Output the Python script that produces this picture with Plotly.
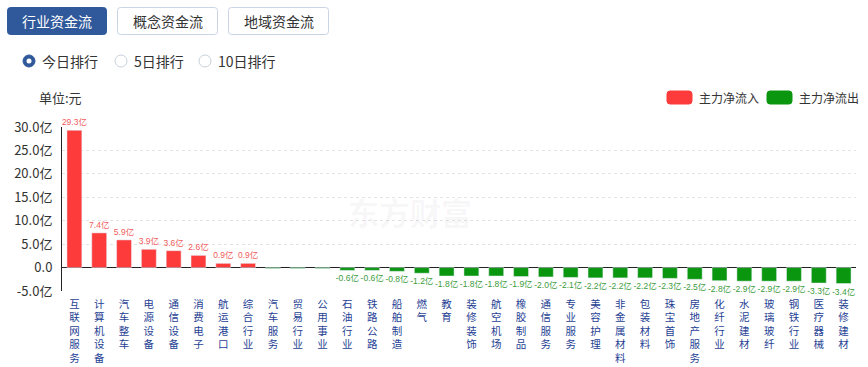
import plotly.graph_objects as go

categories = ["互联网服务", "计算机设备", "汽车整车", "电源设备", "通信设备", "消费电子", "航运港口", "综合行业",
              "汽车服务", "贸易行业", "公用事业", "石油行业", "铁路公路", "船舶制造", "燃气", "教育",
              "装修装饰", "航空机场", "橡胶制品", "通信服务", "专业服务", "美容护理", "非金属材料", "包装材料",
              "珠宝首饰", "房地产服务", "化纤行业", "水泥建材", "玻璃玻纤", "钢铁行业", "医疗器械", "装修建材"]
values = [29.3, 7.4, 5.9, 3.9, 3.6, 2.6, 0.9, 0.9,
          -0.2, -0.2, -0.2, -0.6, -0.6, -0.8, -1.2, -1.8,
          -1.8, -1.8, -1.9, -2.0, -2.1, -2.2, -2.2, -2.2,
          -2.3, -2.5, -2.8, -2.9, -2.9, -2.9, -3.3, -3.4]
y_ticks = [-5, 0, 5, 10, 15, 20, 25, 30]
y_ticktext = [("%.1f亿" % v) if v != 0 else "0.0" for v in y_ticks]
tabs = ["行业资金流", "概念资金流", "地域资金流"]
radios = ["今日排行", "5日排行", "10日排行"]
legend_names = ["主力净流入", "主力净流出"]

RED = "#fe3b3b"
GREEN = "#0a960f"
RED_TXT = "#ef5b5b"
GREEN_TXT = "#3c9c3c"

W, H = 868, 367
L, R, T, B = 62, 856, 127, 291


def px(x):
    return (x - L) / (R - L)


def py(y):
    return (B - y) / (B - T)


pos_vals = [v if v >= 0 else None for v in values]
neg_vals = [v if v < 0 else None for v in values]
pos_txt = [("%.1f亿" % v) if (v is not None and abs(v) >= 0.5) else "" for v in pos_vals]
neg_txt = [("%.1f亿" % v) if (v is not None and abs(v) >= 0.5) else "" for v in neg_vals]

lbl_font = "Liberation Sans, Arial, Noto Sans CJK SC, sans-serif"
font_fam = "Microsoft YaHei, Noto Sans CJK SC, sans-serif"

fig = go.Figure()
fig.add_trace(go.Bar(x=categories, y=pos_vals, name=legend_names[0], marker_color=RED,
                     text=pos_txt, textposition="outside",
                     textfont=dict(size=8.5, color=RED_TXT, family=lbl_font),
                     constraintext="none", cliponaxis=False, width=0.6, hoverinfo="x+y"))
fig.add_trace(go.Bar(x=categories, y=neg_vals, name=legend_names[1], marker_color=GREEN,
                     text=neg_txt, textposition="outside",
                     textfont=dict(size=8.5, color=GREEN_TXT, family=lbl_font),
                     constraintext="none", cliponaxis=False, width=0.6, hoverinfo="x+y"))

shapes = []
annotations = []


def rrect(x0, y0, x1, y1, r, fill, line):
    path = (f"M {px(x0 + r)},{py(y0)} L {px(x1 - r)},{py(y0)} Q {px(x1)},{py(y0)} {px(x1)},{py(y0 + r)} "
            f"L {px(x1)},{py(y1 - r)} Q {px(x1)},{py(y1)} {px(x1 - r)},{py(y1)} "
            f"L {px(x0 + r)},{py(y1)} Q {px(x0)},{py(y1)} {px(x0)},{py(y1 - r)} "
            f"L {px(x0)},{py(y0 + r)} Q {px(x0)},{py(y0)} {px(x0 + r)},{py(y0)} Z")
    return dict(type="path", xref="paper", yref="paper", path=path, fillcolor=fill,
                line=dict(color=line, width=1), layer="below")


def note(x, y, text, size, color, xanchor="left", family=font_fam):
    annotations.append(dict(x=px(x), y=py(y), xref="paper", yref="paper", text=text,
                            xanchor=xanchor, yanchor="middle", showarrow=False,
                            font=dict(size=size, color=color, family=family)))


# tab buttons
tab_boxes = [(7, 107), (117, 218), (228, 329)]
for i, (name, (x0, x1)) in enumerate(zip(tabs, tab_boxes)):
    active = i == 0
    shapes.append(rrect(x0 + 0.5, 7.5, x1 - 0.5, 34.5, 3, "#30599b" if active else "#ffffff",
                        "#30599b" if active else "#c9d5e6"))
    note((x0 + x1) / 2, 21, name, 14, "#ffffff" if active else "#333333", xanchor="center")

# radio buttons
radio_cx = [29, 121, 205]
for i, (name, cx) in enumerate(zip(radios, radio_cx)):
    r = 6
    if i == 0:
        shapes.append(dict(type="circle", xref="paper", yref="paper", x0=px(cx - r), x1=px(cx + r),
                           y0=py(61 + r), y1=py(61 - r), fillcolor="#30599b",
                           line=dict(color="#30599b", width=1), layer="below"))
        shapes.append(dict(type="circle", xref="paper", yref="paper", x0=px(cx - 2.5), x1=px(cx + 2.5),
                           y0=py(61 + 2.5), y1=py(61 - 2.5), fillcolor="#ffffff",
                           line=dict(color="#ffffff", width=0), layer="below"))
    else:
        shapes.append(dict(type="circle", xref="paper", yref="paper", x0=px(cx - r), x1=px(cx + r),
                           y0=py(61 + r), y1=py(61 - r), fillcolor="#ffffff",
                           line=dict(color="#c8d0dc", width=1), layer="below"))
    note(cx + 11, 61, name, 14, "#333333")

# unit label
note(37, 97, "单位:元", 13, "#333333")

# legend
for name, col, x0 in zip(legend_names, [RED, GREEN], [667, 767]):
    shapes.append(rrect(x0, 91, x0 + 25, 104, 3, col, col))
    note(x0 + 30, 97.5, name, 12, "#333333")

# watermark
note(410, 211, "<b>东方财富</b>", 31, "rgba(0,0,0,0.045)", xanchor="center")

fig.update_layout(
    width=W, height=H, autosize=False,
    margin=dict(l=L, r=W - R, t=T, b=H - B, pad=0),
    paper_bgcolor="#ffffff", plot_bgcolor="#ffffff",
    barmode="relative", bargap=0.4, showlegend=False,
    font=dict(family=font_fam),
    shapes=shapes, annotations=annotations,
    xaxis=dict(tickmode="array", tickvals=categories, ticktext=["<br>".join(list(c)) for c in categories],
               tickangle=0, tickfont=dict(size=10.5, color="#1f3f94", family=font_fam),
               showgrid=False, zeroline=False, showline=False, ticks="", ticklabelstandoff=5,
               automargin=False, fixedrange=True),
    yaxis=dict(range=[-5, 30], tickvals=y_ticks, ticktext=y_ticktext,
               tickfont=dict(size=13, color="#333333", family=font_fam),
               showgrid=True, gridcolor="#e3e3e3", griddash="dot", gridwidth=1,
               zeroline=True, zerolinecolor="#222222", zerolinewidth=1,
               showline=True, linecolor="#222222", linewidth=1, ticks="", ticklabelstandoff=6,
               automargin=False, fixedrange=True),
)

fig.write_html("out.html", config={"displayModeBar": False},
               post_script="document.body.style.margin='0';document.body.style.overflow='hidden';")
